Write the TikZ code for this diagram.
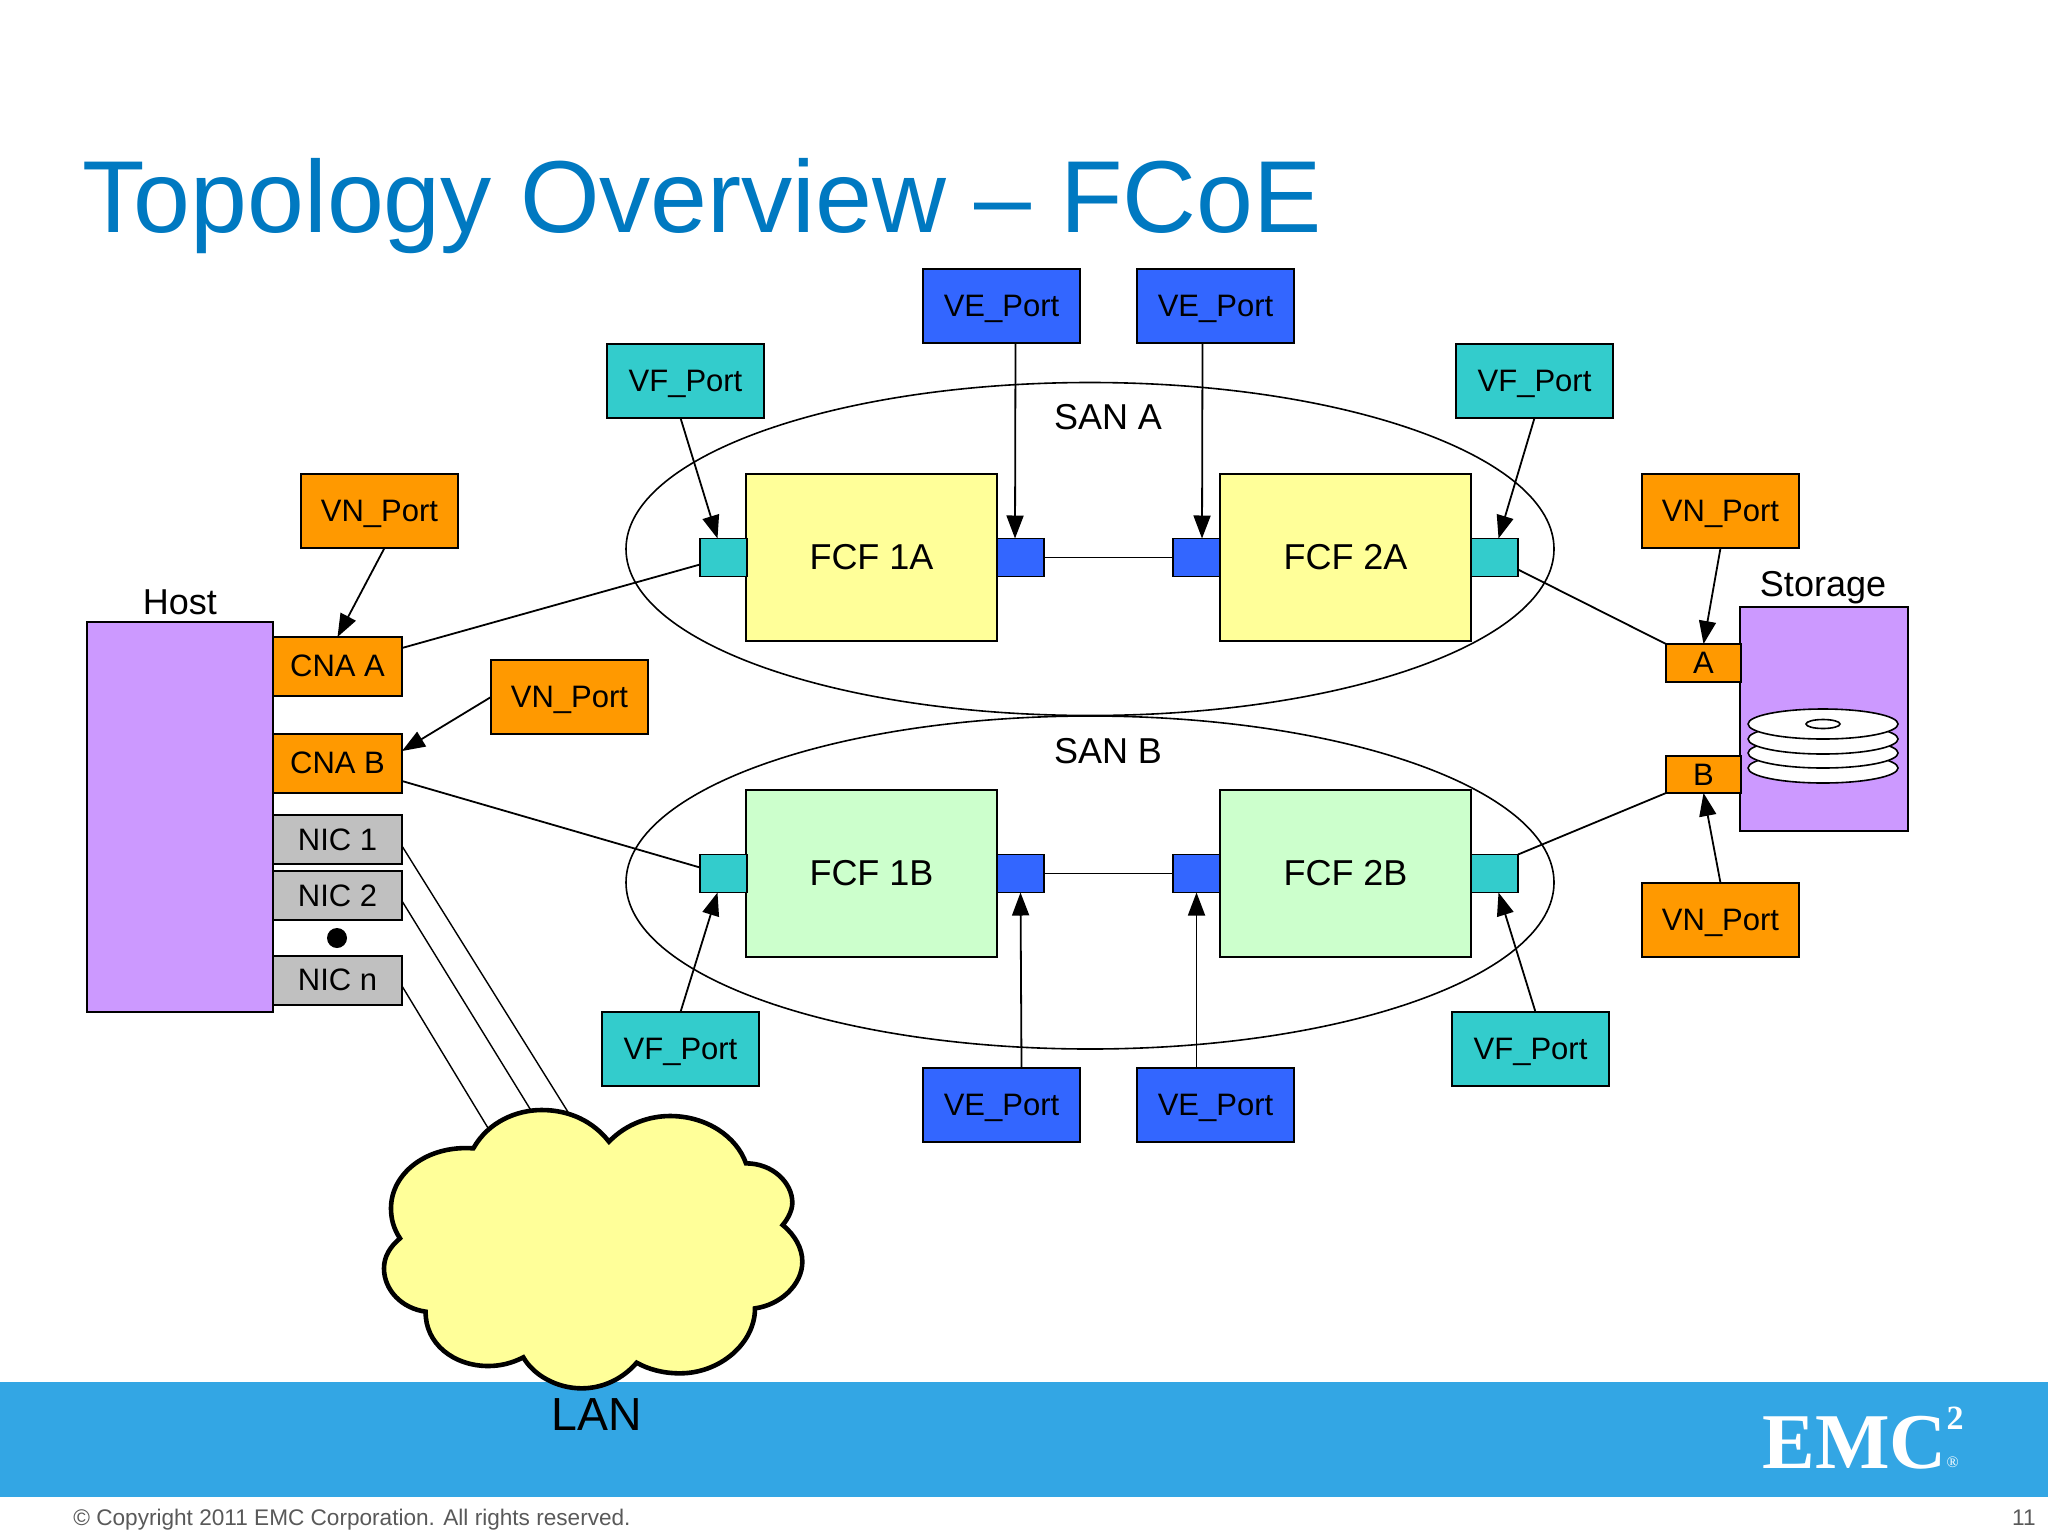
\documentclass[tikz,border=0pt]{standalone}
\usepackage{fontspec}
\setmainfont{Liberation Sans}
\newfontfamily\serifbold[BoldFont={Liberation Serif Bold}]{Liberation Serif}
\usetikzlibrary{shapes.geometric,arrows.meta,calc}
\definecolor{titleblue}{HTML}{0079C1}
\definecolor{bandblue}{HTML}{33A6E4}
\definecolor{vfteal}{HTML}{33CCCC}
\definecolor{veblue}{HTML}{3366FF}
\definecolor{vnorange}{HTML}{FF9900}
\definecolor{hostpurple}{HTML}{CC99FF}
\definecolor{nicgray}{HTML}{C0C0C0}
\definecolor{fcfyellow}{HTML}{FFFF99}
\definecolor{fcfgreen}{HTML}{CCFFCC}
\definecolor{footgray}{HTML}{595959}
\newcommand{\portname}[1]{\raisebox{-5.3pt}[0pt][0pt]{#1}}
\newcommand{\cardname}[1]{\raisebox{-4.9pt}[0pt][0pt]{#1}}
\tikzset{
  boxbase/.style={draw=black,line width=.8pt,inner sep=0pt,outer sep=0pt,anchor=north west,font=\fontsize{15.5}{18}\selectfont,text=black},
  portlabel/.style={boxbase,minimum width=78.5pt,minimum height=37pt},
  vfbox/.style={portlabel,fill=vfteal},
  vebox/.style={portlabel,fill=veblue},
  vnbox/.style={portlabel,fill=vnorange},
  cnabox/.style={boxbase,fill=vnorange,minimum width=64.5pt,minimum height=29.5pt},
  nicbox/.style={boxbase,fill=nicgray,minimum width=64.5pt,minimum height=24.5pt},
  fcfbox/.style={boxbase,minimum width=125.5pt,minimum height=83.5pt,font=\fontsize{18}{22}\selectfont},
  tinyport/.style={boxbase,minimum width=23.5pt,minimum height=19pt},
  sanring/.style={ellipse,draw=black,line width=.8pt,inner sep=0pt,outer sep=0pt,minimum width=464pt,minimum height=166.5pt},
  disc/.style={ellipse,draw=black,line width=.8pt,fill=white,inner sep=0pt,outer sep=0pt,minimum width=75pt,minimum height=15pt},
  hole/.style={ellipse,draw=black,line width=.8pt,fill=white,inner sep=0pt,outer sep=0pt,minimum width=17pt,minimum height=4.5pt},
  biglabel/.style={font=\fontsize{18}{22}\selectfont,text=black,inner sep=0pt,anchor=base},
  wire/.style={draw=black,line width=.9pt},
  pointer/.style={draw=black,line width=.9pt,-{Triangle[length=11.5pt,width=8.5pt]}}
}
\begin{document}
\begin{tikzpicture}[x=0.5pt,y=-0.5pt]
\useasboundingbox (0,0) rectangle (2048,1536);
\fill[white] (0,0) rectangle (2048,1536);
% band
\fill[bandblue] (0,1382) rectangle (2048,1497);
% title
\node[anchor=base west,inner sep=0pt,text=titleblue,font=\fontsize{51.15}{60}\selectfont] (title) at (82,232) {Topology Overview – FCoE};
% SAN rings
\node[sanring] (sanA) at (1090,549) {};
\node[sanring] (sanB) at (1090,882.5) {};
\node[biglabel] (sanAlabel) at (1108,429) {SAN A};
\node[biglabel] (sanBlabel) at (1108,763) {SAN B};
% host
\node[boxbase,fill=hostpurple,minimum width=93pt,minimum height=195pt] (host) at (87,622) {};
\node[biglabel] (hostlabel) at (180,614) {Host};
\node[cnabox] (cnaA) at (273,637) {\cardname{CNA A}};
\node[cnabox] (cnaB) at (273,734) {\cardname{CNA B}};
\node[nicbox] (nic1) at (273,815) {NIC 1};
\node[nicbox] (nic2) at (273,871) {NIC 2};
\node[nicbox] (nicn) at (273,956) {\cardname{NIC n}};
\node[circle,fill=black,inner sep=0pt,minimum size=10pt] (dot) at (337,938) {};
% storage
\node[boxbase,fill=hostpurple,minimum width=84pt,minimum height=112pt] (storage) at (1740,607) {};
\node[biglabel] (storagelabel) at (1823,596) {Storage};
\node[boxbase,fill=vnorange,minimum width=37.5pt,minimum height=19pt] (portA) at (1666,644) {A};
\node[boxbase,fill=vnorange,minimum width=37.5pt,minimum height=18.5pt] (portB) at (1666,756) {B};
\node[disc] (d4) at (1823,768) {};
\node[disc] (d3) at (1823,753) {};
\node[disc] (d2) at (1823,739) {};
\node[disc] (d1) at (1823,724) {};
\node[hole] (dh) at (1823,724) {};
% FCF
\node[fcfbox,fill=fcfyellow] (f1a) at (746,474) {FCF 1A};
\node[fcfbox,fill=fcfyellow] (f2a) at (1220,474) {FCF 2A};
\node[fcfbox,fill=fcfgreen] (f1b) at (746,790) {FCF 1B};
\node[fcfbox,fill=fcfgreen] (f2b) at (1220,790) {FCF 2B};
\node[tinyport,fill=vfteal] (p1aL) at (700,538.5) {};
\node[tinyport,fill=veblue] (p1aR) at (997,538.5) {};
\node[tinyport,fill=veblue] (p2aL) at (1173,538.5) {};
\node[tinyport,fill=vfteal] (p2aR) at (1471,538.5) {};
\node[tinyport,fill=vfteal] (p1bL) at (700,854.5) {};
\node[tinyport,fill=veblue] (p1bR) at (997,854.5) {};
\node[tinyport,fill=veblue] (p2bL) at (1173,854.5) {};
\node[tinyport,fill=vfteal] (p2bR) at (1471,854.5) {};
% port labels
\node[vnbox] (vn1) at (301,474) {\portname{VN\_Port}};
\node[vnbox] (vn2) at (491,660) {\portname{VN\_Port}};
\node[vnbox] (vn3) at (1642,474) {\portname{VN\_Port}};
\node[vnbox] (vn4) at (1642,883) {\portname{VN\_Port}};
\node[vfbox] (vf1) at (607,344) {\portname{VF\_Port}};
\node[vfbox] (vf2) at (1456,344) {\portname{VF\_Port}};
\node[vfbox] (vf3) at (602,1012) {\portname{VF\_Port}};
\node[vfbox] (vf4) at (1452,1012) {\portname{VF\_Port}};
\node[vebox] (ve1) at (923,269) {\portname{VE\_Port}};
\node[vebox] (ve2) at (1137,269) {\portname{VE\_Port}};
\node[vebox] (ve3) at (923,1068) {\portname{VE\_Port}};
\node[vebox] (ve4) at (1137,1068) {\portname{VE\_Port}};
% wires
\draw[wire] ($(cnaA.north east)+(0,11)$) -- ($(p1aL.north west)+(0,26)$);
\draw[wire] ($(cnaB.north east)+(0,47)$) -- ($(p1bL.north west)+(0,13)$);
\draw[wire] ($(p2aR.north east)+(0,31)$) -- (portA.north west);
\draw[wire] (p2bR.north east) -- (portB.south west);
\draw[wire] (p1aR.east) -- (p2aL.west);
\draw[wire] (p1bR.east) -- (p2bL.west);
% NIC lines to LAN
\coordinate (lanA) at (568,1112);
\coordinate (lanB) at (532,1112);
\coordinate (lanC) at (488,1128);
\draw[wire,line width=.7pt] ($(nic1.north east)+(0,31)$) -- (lanA);
\draw[wire,line width=.7pt] ($(nic2.north east)+(0,30)$) -- (lanB);
\draw[wire,line width=.7pt] ($(nicn.north east)+(0,30)$) -- (lanC);
% pointers
\draw[pointer] ($(vn1.south)+(5,0)$) -- (cnaA.north);
\draw[pointer] ($(vn2.west)$) -- ($(cnaB.north east)+(0,17)$);
\draw[pointer] ($(vf1.south)+(-5,0)$) -- ($(p1aL.north)+(-6,0)$);
\draw[pointer] ($(ve1.south)+(14,0)$) -- ($(p1aR.north)+(-5.5,0)$);
\draw[pointer] ($(ve2.south)+(-13,0)$) -- ($(p2aL.north)+(5.5,0)$);
\draw[pointer] (vf2.south) -- ($(p2aR.north)+(4,0)$);
\draw[pointer] (vn3.south) -- (portA.north);
\draw[pointer] (vn4.north) -- (portB.south);
\draw[pointer] ($(vf3.north)$) -- ($(p1bL.south)+(-6,0)$);
\draw[pointer] ($(ve3.north)+(20,0)$) -- ($(p1bR.south)$);
\draw[pointer] ($(ve4.north)-(19,0)$) -- ($(p2bL.south)$);
\draw[pointer] ($(vf4.north)+(5,0)$) -- ($(p2bR.south)+(4,0)$);
% LAN cloud
\begin{scope}[shift={(360,1080)},scale=0.33333]
\draw[draw=black,fill=fcfyellow,line width=2.3pt,line join=miter]
 (340,205) .. controls (385,125) and (470,90) .. (545,90) .. controls (630,90) and (700,125) .. (747,185)
 .. controls (800,130) and (870,108) .. (930,108) .. controls (1040,108) and (1130,170) .. (1158,250)
 .. controls (1240,250) and (1297,310) .. (1297,368) .. controls (1297,390) and (1285,415) .. (1268,435)
 .. controls (1305,465) and (1327,505) .. (1327,545) .. controls (1327,615) and (1260,675) .. (1185,685)
 .. controls (1185,790) and (1080,880) .. (960,880) .. controls (910,880) and (865,868) .. (830,848)
 .. controls (790,895) and (730,925) .. (665,925) .. controls (590,925) and (520,885) .. (490,832)
 .. controls (455,850) and (420,858) .. (385,858) .. controls (280,858) and (195,790) .. (197,695)
 .. controls (125,685) and (72,630) .. (72,565) .. controls (72,530) and (90,500) .. (120,475)
 .. controls (100,445) and (93,415) .. (93,385) .. controls (93,280) and (200,195) .. (340,205) -- cycle;
\end{scope}
\node[anchor=base,inner sep=0pt,text=black,font=\fontsize{23.2}{27}\selectfont] (lanlabel) at (597,1430) {LAN};
% logo
\node[anchor=base west,inner sep=0pt,text=white,font=\serifbold\bfseries\fontsize{39.5}{44}\selectfont] (emc) at (1762,1468) {EMC\rlap{\raisebox{19.5pt}{\fontsize{17}{18}\selectfont 2}}\rlap{\raisebox{0.5pt}{\mdseries\fontsize{8}{9}\selectfont ®}}};
% footer
\node[anchor=base west,inner sep=0pt,text=footgray,font=\fontsize{11.3}{13}\selectfont] (copy) at (73,1525) {© Copyright 2011 EMC Corporation. All rights reserved.};
\node[anchor=base east,inner sep=0pt,text=footgray,font=\fontsize{11.3}{13}\selectfont] (pagenum) at (2036,1525) {11};
\end{tikzpicture}
\end{document}
